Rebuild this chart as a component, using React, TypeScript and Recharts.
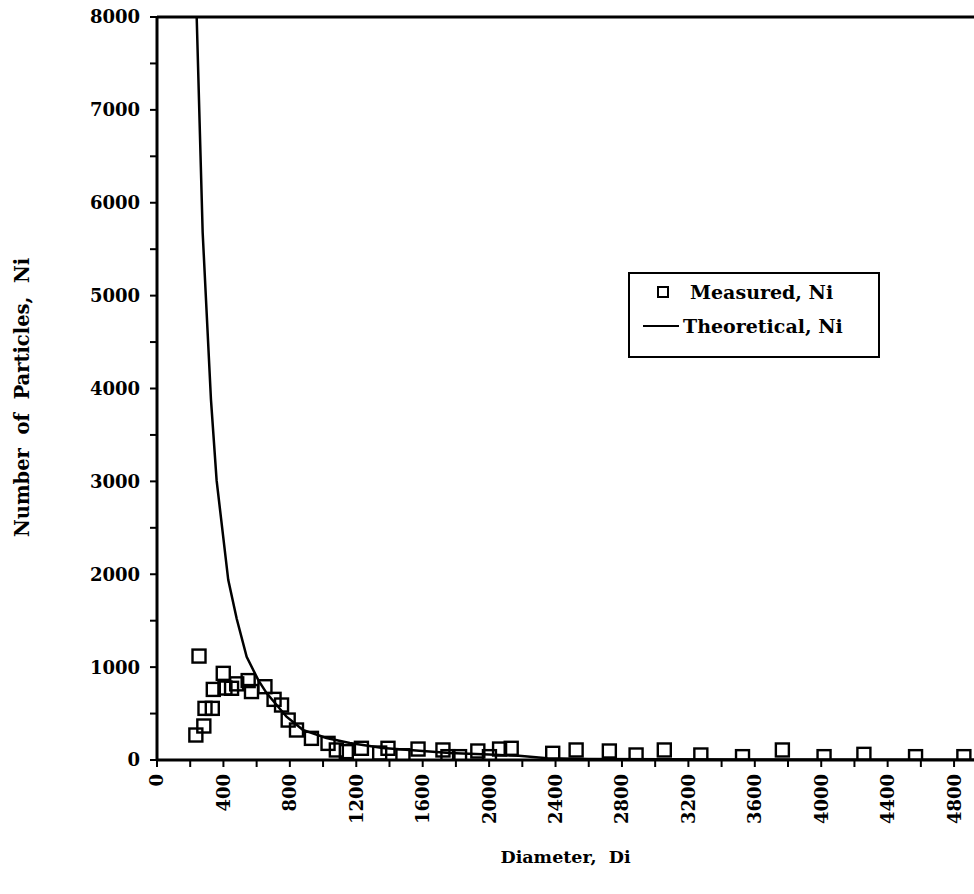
import React from 'react';
import { ComposedChart, XAxis, YAxis, Scatter, Line, Legend, ReferenceLine, Label } from 'recharts';

// Measured particle counts
const measuredDiameter = [
  234, 253, 282, 289, 333, 339, 399, 409, 449, 480, 549, 569, 650, 705, 750, 790, 840, 930,
  1030, 1080, 1140, 1231, 1341, 1391, 1481, 1572, 1722, 1752, 1822, 1932, 2002, 2063, 2133,
  2383, 2524, 2724, 2885, 3055, 3275, 3526, 3766, 4017, 4257, 4568, 4859,
];
const measuredCount = [
  269, 1119, 366, 556, 556, 760, 933, 775, 772, 820, 855, 737, 789, 653, 592, 430, 323, 233,
  179, 108, 90, 126, 75, 126, 46, 118, 108, 36, 36, 97, 36, 118, 126,
  72, 108, 97, 54, 108, 54, 36, 108, 36, 61, 36, 36,
];

// Theoretical curve
const theoreticalDiameter = [
  239, 275, 325, 359, 429, 480, 540, 610, 660, 780, 878, 1020, 1161, 1359, 1762, 2000, 2180, 2350,
  2600, 3500, 4920,
];
const theoreticalCount = [
  8000, 5680, 3880, 3010, 1940, 1520, 1110, 860, 720, 466, 325, 237, 183, 129, 75, 58, 45, 20,
  10, 5, 2,
];

const xTicks = [
  0, 200, 400, 600, 800, 1000, 1200, 1400, 1600, 1800, 2000, 2200, 2400, 2600, 2800, 3000, 3200,
  3400, 3600, 3800, 4000, 4200, 4400, 4600, 4800,
];
const yTicks = [
  0, 500, 1000, 1500, 2000, 2500, 3000, 3500, 4000, 4500, 5000, 5500, 6000, 6500, 7000, 7500, 8000,
];

const measured = measuredDiameter.map((d, i) => ({ d, n: measuredCount[i] }));
const theoretical = theoreticalDiameter.map((d, i) => ({ d, n: theoreticalCount[i] }));

const FONT = '"DejaVu Serif", serif';

const XTick = (props: any) => {
  const { x, y, payload } = props;
  if (payload.value % 400 !== 0) return <g />;
  return (
    <text
      x={x}
      y={y}
      transform={`rotate(-90 ${x} ${y})`}
      textAnchor="end"
      dy="0.36em"
      fontFamily={FONT}
      fontWeight="bold"
      fontSize={18}
      fill="#000"
    >
      {payload.value}
    </text>
  );
};

const YTick = (props: any) => {
  const { x, y, payload } = props;
  if (payload.value % 1000 !== 0) return <g />;
  return (
    <text x={x} y={y} textAnchor="end" dy="0.36em" fontFamily={FONT} fontWeight="bold" fontSize={18} fill="#000">
      {payload.value}
    </text>
  );
};

const XTitle = (props: any) => {
  const { viewBox } = props;
  const cx = viewBox.x + viewBox.width / 2;
  const cy = viewBox.y + 97;
  return (
    <text x={cx} y={cy} textAnchor="middle" dy="0.36em" fontFamily={FONT} fontWeight="bold" fontSize={17.5} fill="#000" style={{ whiteSpace: 'pre' }}>
      {'Diameter,  Di'}
    </text>
  );
};

const YTitle = (props: any) => {
  const { viewBox } = props;
  const cx = viewBox.x + 22;
  const cy = viewBox.y + viewBox.height / 2 + 9;
  return (
    <text
      x={cx}
      y={cy}
      transform={`rotate(-90 ${cx} ${cy})`}
      textAnchor="middle"
      dy="0.36em"
      fontFamily={FONT}
      fontWeight="bold"
      fontSize={19.5}
      fill="#000"
      style={{ whiteSpace: 'pre' }}
    >
      {'Number  of  Particles,  Ni'}
    </text>
  );
};

const SquareDot = (props: any) => {
  const { cx, cy } = props;
  if (cx == null || cy == null) return <g />;
  return <rect x={cx - 6.5} y={cy - 6.5} width={13} height={13} fill="none" stroke="#000" strokeWidth={2.4} />;
};

const LegendBox = () => (
  <svg width={252} height={86} style={{ display: 'block' }}>
    <rect x={1} y={1} width={250} height={84} fill="#fff" stroke="#000" strokeWidth={2} />
    <rect x={30} y={15} width={10} height={10} fill="none" stroke="#000" strokeWidth={2} />
    <text x={62} y={20} dy="0.36em" fontFamily={FONT} fontWeight="bold" fontSize={19} fill="#000">
      Measured, Ni
    </text>
    <line x1={15} x2={51} y1={54} y2={54} stroke="#000" strokeWidth={2} />
    <text x={55} y={54} dy="0.36em" fontFamily={FONT} fontWeight="bold" fontSize={19} fill="#000">
      Theoretical, Ni
    </text>
  </svg>
);

export default function App() {
  return (
    <div style={{ position: 'absolute', left: 0, top: 0, background: '#fff' }}>
      <ComposedChart width={974} height={894} margin={{ top: 17, right: 0, bottom: 0, left: 0 }}>
        <XAxis
          dataKey="d"
          type="number"
          domain={[0, 4920]}
          ticks={xTicks}
          interval={0}
          allowDataOverflow
          height={134}
          tickSize={7}
          tickMargin={7}
          tick={XTick}
          tickLine={{ stroke: '#000', strokeWidth: 2 }}
          axisLine={{ stroke: '#000', strokeWidth: 3 }}
        >
          <Label content={XTitle} />
        </XAxis>
        <YAxis
          type="number"
          domain={[0, 8000]}
          ticks={yTicks}
          interval={0}
          allowDataOverflow
          width={157}
          tickSize={7}
          tickMargin={10}
          tick={YTick}
          tickLine={{ stroke: '#000', strokeWidth: 2 }}
          axisLine={{ stroke: '#000', strokeWidth: 3 }}
        >
          <Label content={YTitle} />
        </YAxis>
        <ReferenceLine y={8000} stroke="#000" strokeWidth={3} />
        <Line
          data={theoretical}
          dataKey="n"
          type="linear"
          stroke="#000"
          strokeWidth={2.5}
          dot={false}
          activeDot={false}
          isAnimationActive={false}
          name="Theoretical, Ni"
        />
        <Scatter
          data={measured}
          dataKey="n"
          shape={SquareDot}
          isAnimationActive={false}
          name="Measured, Ni"
        />
        <Legend
          content={LegendBox}
          layout="vertical"
          align="center"
          verticalAlign="middle"
          wrapperStyle={{ left: 628, top: 272, width: 252, height: 86 }}
        />
      </ComposedChart>
    </div>
  );
}
